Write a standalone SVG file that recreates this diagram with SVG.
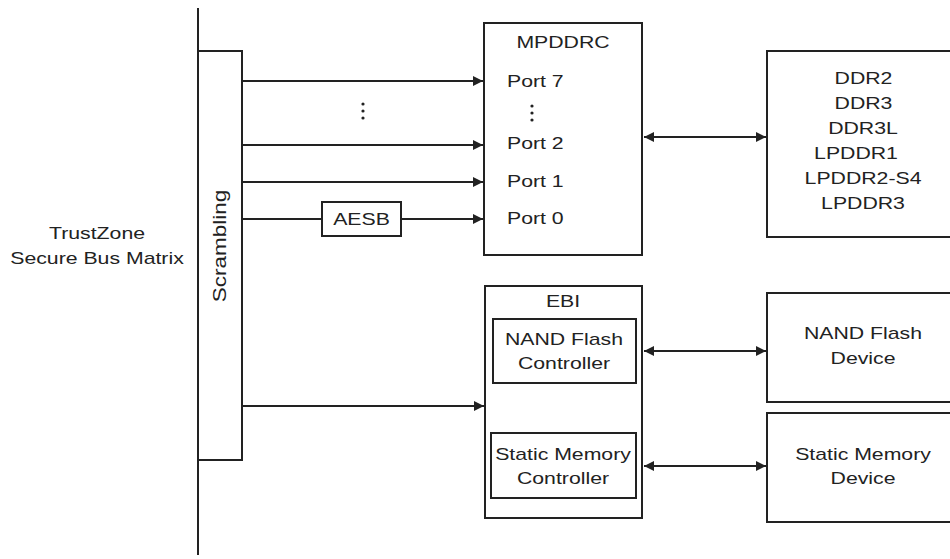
<svg xmlns="http://www.w3.org/2000/svg" width="950" height="559" viewBox="0 0 950 559">
<style>
.b{fill:#fff;stroke:#222;stroke-width:2}
.l{stroke:#222;stroke-width:2;fill:none}
text{font-family:"Liberation Sans",Arial,sans-serif;font-size:17px;fill:#222}
.c{text-anchor:middle}
</style>
<defs>
<marker id="ah" viewBox="0 0 10 10" refX="10" refY="5" markerWidth="10" markerHeight="10" markerUnits="userSpaceOnUse" orient="auto-start-reverse">
<path d="M0,0 L10,5 L0,10 z" fill="#222"/>
</marker>
</defs>
<g id="bus">
<line class="l" x1="198" y1="8" x2="198" y2="555"/>
<text class="c" transform="translate(97,239) scale(1.25,1)">TrustZone</text>
<text class="c" transform="translate(97,264) scale(1.25,1)">Secure Bus Matrix</text>
</g>
<g id="scrambling">
<rect class="b" x="198" y="51" width="44" height="409"/>
<text class="c" transform="translate(226,246) rotate(-90) scale(1.25,1)" style="font-size:18px">Scrambling</text>
</g>
<g id="connectors">
<line class="l" x1="242" y1="81" x2="483" y2="81" marker-end="url(#ah)"/>
<line class="l" x1="242" y1="145" x2="483" y2="145" marker-end="url(#ah)"/>
<line class="l" x1="242" y1="182" x2="483" y2="182" marker-end="url(#ah)"/>
<line class="l" x1="242" y1="219" x2="322" y2="219"/>
<line class="l" x1="401" y1="219" x2="483" y2="219" marker-end="url(#ah)"/>
<line class="l" x1="242" y1="406" x2="484" y2="406" marker-end="url(#ah)"/>
<line class="l" x1="644" y1="137" x2="766" y2="137" marker-start="url(#ah)" marker-end="url(#ah)"/>
<line class="l" x1="644" y1="351" x2="766" y2="351" marker-start="url(#ah)" marker-end="url(#ah)"/>
<line class="l" x1="644" y1="466" x2="766" y2="466" marker-start="url(#ah)" marker-end="url(#ah)"/>
<circle cx="363" cy="104" r="1.6" fill="#222"/>
<circle cx="363" cy="111" r="1.6" fill="#222"/>
<circle cx="363" cy="118" r="1.6" fill="#222"/>
</g>
<g id="aesb">
<rect class="b" x="322" y="202" width="79" height="34"/>
<text class="c" transform="translate(361.5,225) scale(1.25,1)">AESB</text>
</g>
<g id="mpddrc">
<rect class="b" x="484" y="23" width="158" height="232"/>
<text class="c" transform="translate(563,48) scale(1.25,1)">MPDDRC</text>
<text transform="translate(507,87) scale(1.25,1)">Port 7</text>
<circle cx="532" cy="106" r="1.6" fill="#222"/>
<circle cx="532" cy="113" r="1.6" fill="#222"/>
<circle cx="532" cy="120" r="1.6" fill="#222"/>
<text transform="translate(507,149) scale(1.25,1)">Port 2</text>
<text transform="translate(507,187) scale(1.25,1)">Port 1</text>
<text transform="translate(507,224) scale(1.25,1)">Port 0</text>
</g>
<g id="ddr">
<rect class="b" x="767" y="51" width="190" height="186"/>
<text class="c" transform="translate(863.5,84) scale(1.25,1)">DDR2</text>
<text class="c" transform="translate(863.5,109) scale(1.25,1)">DDR3</text>
<text class="c" transform="translate(863,134) scale(1.25,1)">DDR3L</text>
<text class="c" transform="translate(856,159) scale(1.25,1)">LPDDR1</text>
<text class="c" transform="translate(863,184) scale(1.25,1)">LPDDR2-S4</text>
<text class="c" transform="translate(863,209) scale(1.25,1)">LPDDR3</text>
</g>
<g id="ebi">
<rect class="b" x="485" y="286" width="157" height="232"/>
<text class="c" transform="translate(563,307) scale(1.25,1)">EBI</text>
</g>
<g id="nandctrl">
<rect class="b" x="493" y="319" width="143" height="64"/>
<text class="c" transform="translate(564,345) scale(1.25,1)">NAND Flash</text>
<text class="c" transform="translate(564,369) scale(1.25,1)">Controller</text>
</g>
<g id="smctrl">
<rect class="b" x="491" y="433" width="145" height="65"/>
<text class="c" transform="translate(563,460) scale(1.25,1)">Static Memory</text>
<text class="c" transform="translate(563,484) scale(1.25,1)">Controller</text>
</g>
<g id="nanddev">
<rect class="b" x="767" y="293" width="190" height="109"/>
<text class="c" transform="translate(863,339) scale(1.25,1)">NAND Flash</text>
<text class="c" transform="translate(863,364) scale(1.25,1)">Device</text>
</g>
<g id="smdev">
<rect class="b" x="767" y="413" width="190" height="109"/>
<text class="c" transform="translate(863,460) scale(1.25,1)">Static Memory</text>
<text class="c" transform="translate(863,484) scale(1.25,1)">Device</text>
</g>
</svg>
